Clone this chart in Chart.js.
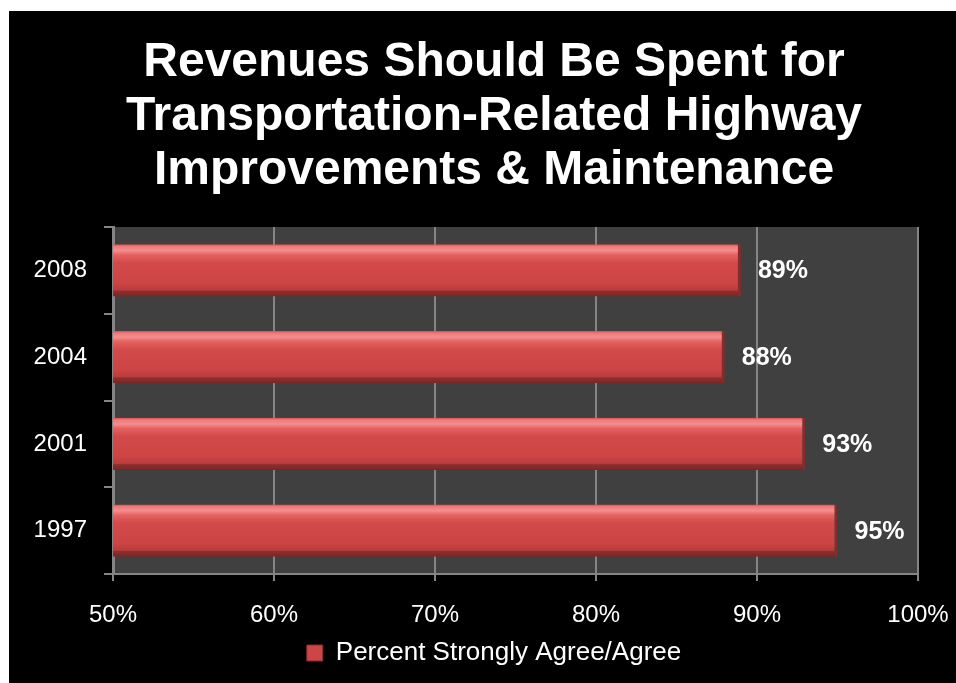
<!DOCTYPE html>
<html>
<head>
<meta charset="utf-8">
<title>Revenues Should Be Spent for Transportation-Related Highway Improvements & Maintenance</title>
<script src="https://cdn.jsdelivr.net/npm/chart.js@4/dist/chart.umd.min.js"></script>
<style>
    html, body { margin: 0; padding: 0; background: #ffffff; overflow: hidden; }
    #wrap { position: absolute; left: 9px; top: 11px; width: 970px; height: 672px; background: #000000; }
</style>
</head>
<body>
<div id="wrap"><canvas id="surveyChart" width="970" height="672"></canvas></div>
<script>
// Survey results, top row first
const years = ['2008', '2004', '2001', '1997'];
const agreePercent = [89, 88, 93, 95];
const seriesName = 'Percent Strongly Agree/Agree';
const titleLines = [
    'Revenues Should Be Spent for',
    'Transportation-Related Highway',
    'Improvements & Maintenance'
];
const axisMin = 50;
const axisMax = 100;
const axisStep = 10;

const FONT = "'Liberation Sans', Arial, sans-serif";
const BAR_PCT = 0.6;

// shiny red bar, shaded from top edge to bottom edge
function barGradient(context) {
    const chart = context.chart;
    const yScale = chart.scales.y;
    if (!chart.chartArea || !yScale) return '#cc4444';
    const center = yScale.getPixelForValue(context.dataIndex);
    const h = (yScale.height / years.length) * BAR_PCT;
    const top = center - h / 2;
    const g = chart.ctx.createLinearGradient(0, top, 0, top + h);
    g.addColorStop(0, '#d85050');
    g.addColorStop(0.04, '#f07a7a');
    g.addColorStop(0.12, '#f48e8e');
    g.addColorStop(0.2, '#e66262');
    g.addColorStop(0.35, '#d44a4a');
    g.addColorStop(0.75, '#cc4444');
    g.addColorStop(0.88, '#b83c3c');
    g.addColorStop(0.9, '#8e2e2e');
    g.addColorStop(1, '#7a2626');
    return g;
}

// dark grey plot background
const plotBackground = {
    id: 'plotBackground',
    beforeDraw(chart) {
        const { ctx, chartArea } = chart;
        ctx.save();
        ctx.fillStyle = '#404040';
        ctx.fillRect(chartArea.left, chartArea.top, chartArea.right - chartArea.left, chartArea.bottom - chartArea.top);
        ctx.restore();
    }
};

// percent labels to the right of each bar
const valueLabels = {
    id: 'valueLabels',
    afterDatasetsDraw(chart) {
        const ctx = chart.ctx;
        const meta = chart.getDatasetMeta(0);
        ctx.save();
        ctx.fillStyle = '#ffffff';
        ctx.font = 'bold 25px ' + FONT;
        ctx.textAlign = 'left';
        ctx.textBaseline = 'middle';
        meta.data.forEach((bar, i) => {
            ctx.fillText(agreePercent[i] + '%', bar.x + 17, bar.y + 1);
        });
        ctx.restore();
    }
};

const ctx = document.getElementById('surveyChart').getContext('2d');

new Chart(ctx, {
    type: 'bar',
    data: {
        labels: years,
        datasets: [{
            label: seriesName,
            data: agreePercent,
            backgroundColor: barGradient,
            borderColor: '#8a2a2a',
            borderWidth: { top: 0, bottom: 0, left: 0, right: 3 },
            borderSkipped: false,
            barPercentage: BAR_PCT,
            categoryPercentage: 1
        }]
    },
    options: {
        indexAxis: 'y',
        responsive: false,
        animation: false,
        layout: {
            padding: { left: 0, right: 0, top: 0, bottom: 7 }
        },
        scales: {
            x: {
                min: axisMin,
                max: axisMax,
                afterFit: (scale) => { scale.height = 64; },
                ticks: {
                    stepSize: axisStep,
                    color: '#ffffff',
                    font: { family: FONT, size: 24 },
                    padding: 20,
                    callback: (v) => v + '%'
                },
                grid: {
                    color: '#858585',
                    lineWidth: 2,
                    tickLength: 7
                },
                border: { color: '#858585', width: 2 }
            },
            y: {
                afterFit: (scale) => { scale.width = 104; },
                ticks: {
                    color: '#ffffff',
                    font: { family: FONT, size: 24 },
                    padding: 17
                },
                grid: {
                    offset: true,
                    drawOnChartArea: false,
                    color: '#858585',
                    lineWidth: 2,
                    tickLength: 9
                },
                border: { color: '#858585', width: 3 }
            },
            // empty strip on the right, keeps the plot clear of the edge
            yRight: {
                type: 'category',
                position: 'right',
                afterFit: (scale) => { scale.width = 61; },
                ticks: { display: false },
                grid: { display: false },
                border: { display: false }
            }
        },
        plugins: {
            title: {
                display: true,
                text: titleLines,
                color: '#ffffff',
                font: { family: FONT, size: 48, weight: 'bold', lineHeight: 1.125 },
                padding: { top: 25, bottom: 29 }
            },
            legend: {
                position: 'bottom',
                labels: {
                    color: '#ffffff',
                    font: { family: FONT, size: 26 },
                    boxWidth: 16,
                    boxHeight: 16,
                    padding: 2,
                    generateLabels: () => [{
                        text: seriesName,
                        fillStyle: '#cc4646',
                        strokeStyle: '#8a2a2a',
                        lineWidth: 1,
                        fontColor: '#ffffff',
                        datasetIndex: 0
                    }]
                }
            },
            tooltip: { enabled: false }
        }
    },
    plugins: [plotBackground, valueLabels]
});
</script>
</body>
</html>
